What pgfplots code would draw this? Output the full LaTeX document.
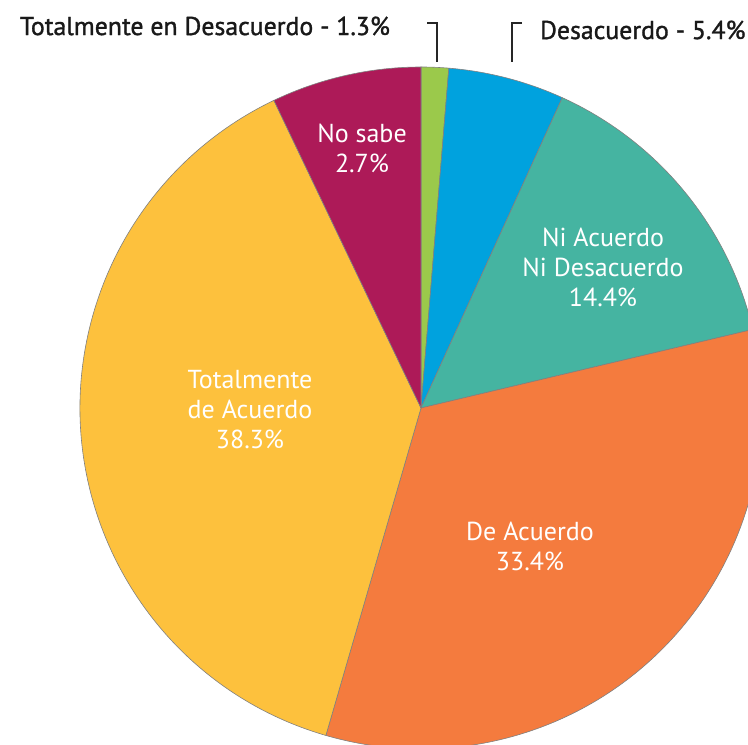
\documentclass[border=0pt]{standalone}
\usepackage{pgfplots}
\pgfplotsset{compat=1.18}
\usepackage{pgfplotstable}
\usepackage{fontspec}
\setmainfont{PT Sans}
\newfontfamily\medfont[FakeBold=1.3]{PT Sans}

\definecolor{cgreen}{HTML}{9BC94B}
\definecolor{cblue}{HTML}{00A2DE}
\definecolor{cteal}{HTML}{45B4A1}
\definecolor{corange}{HTML}{F47B3E}
\definecolor{cyellow}{HTML}{FDC13D}
\definecolor{cmag}{HTML}{AD1A58}

% drawn share of the circle, clockwise from 12 o'clock
\pgfplotstableread{
value col
1.3  cgreen
5.5  cblue
14.5 cteal
33.2 corange
38.4 cyellow
7.1  cmag
}\piedata

\begin{document}
\begin{tikzpicture}
\begin{axis}[
    hide axis, scale only axis,
    width=374pt, height=372pt,
    xmin=0, xmax=748, ymin=0, ymax=744,
    clip=true,
]
\pgfplotstablegetrowsof{\piedata}
\pgfmathtruncatemacro\nrows{\pgfplotsretval-1}
\def\cum{0}
\pgfplotsforeachungrouped \i in {0,...,\nrows}{
  \pgfplotstablegetelem{\i}{value}\of\piedata \let\v\pgfplotsretval
  \pgfplotstablegetelem{\i}{col}\of\piedata \let\c\pgfplotsretval
  \pgfmathsetmacro\a{90-3.6*\cum}
  \pgfmathsetmacro\b{90-3.6*(\cum+\v)}
  \edef\temp{\noexpand\fill[\c, draw=black!50, line width=0.3pt]
    (axis cs:421,336) -- ++(\a:170.5pt) arc[start angle=\a, end angle=\b, radius=170.5pt] -- cycle;}
  \temp
  \pgfmathsetmacro\cum{\cum+\v}
}

\begin{scope}[every node/.style={text=white, align=center, font=\fontsize{13}{15}\selectfont}]
\node at (axis cs:362,596) {No sabe\\2.7\%};
\node at (axis cs:603,477) {Ni Acuerdo\\Ni Desacuerdo\\14.4\%};
\node at (axis cs:250,334) {Totalmente\\de Acuerdo\\38.3\%};
\node at (axis cs:530,198) {De Acuerdo\\33.4\%};
\end{scope}

\node[font=\medfont\fontsize{12.9}{16}\selectfont, text=black!90, anchor=east] at (axis cs:397,718) {Totalmente en Desacuerdo - 1.3\%};
\node[font=\medfont\fontsize{12.9}{16}\selectfont, text=black!90, anchor=west] at (axis cs:533,714) {Desacuerdo - 5.4\%};
\draw[line width=1.2pt, black!85] (axis cs:427,721) -- (axis cs:437,721) -- (axis cs:437,682);
\draw[line width=1.2pt, black!85] (axis cs:522,721) -- (axis cs:512,721) -- (axis cs:512,682);
\end{axis}
\pgfresetboundingbox
\useasboundingbox (current axis.south west) rectangle (current axis.north east);
\end{tikzpicture}
\end{document}
